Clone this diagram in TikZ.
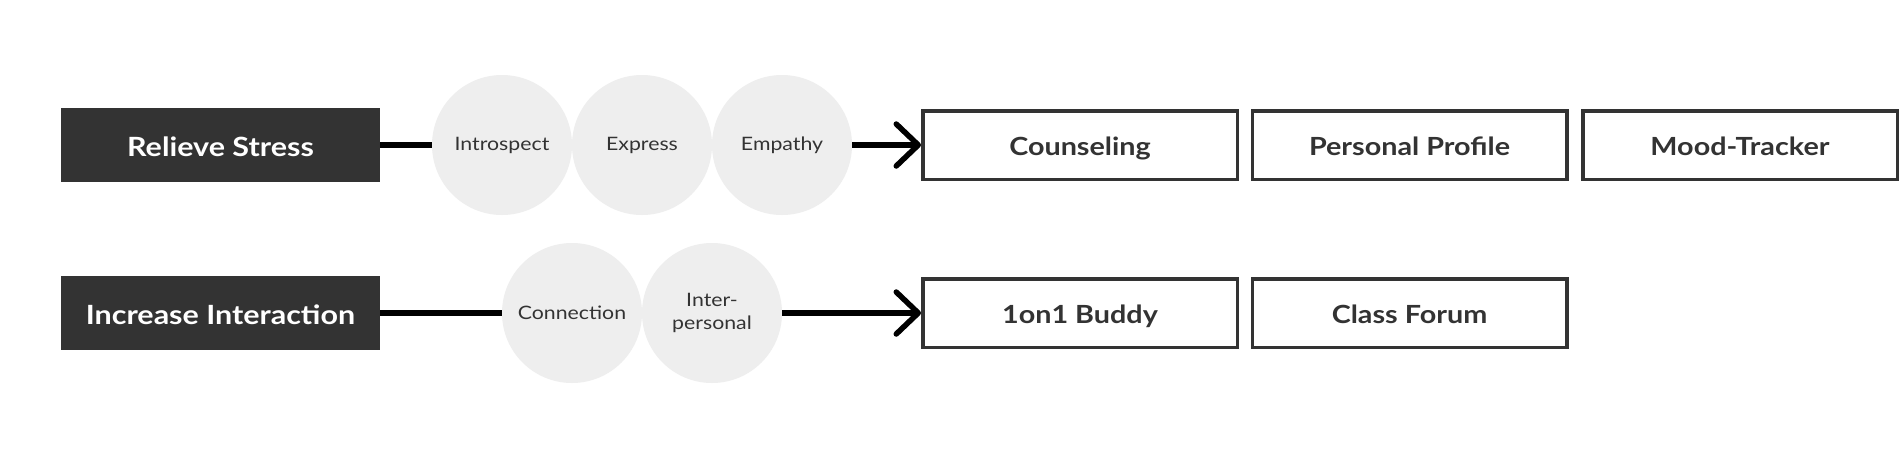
\documentclass[tikz,border=0pt]{standalone}
\usepackage{fontspec}
\setmainfont{Lato}[FakeStretch=1.15]
\usetikzlibrary{arrows.meta}
\definecolor{darkgrey}{HTML}{333333}
\definecolor{lightgrey}{HTML}{EEEEEE}
\begin{document}
\begin{tikzpicture}[x=1pt,y=-1pt,>={Straight Barb[length=22pt,width=42pt,round]},
		goal/.style={fill=darkgrey,text=white,minimum width=319pt,minimum height=74pt,inner sep=0pt,outer sep=0pt,text height=22pt,text depth=0pt,font=\fontsize{26.5}{30}\selectfont\bfseries},
		stage/.style={circle,fill=lightgrey,text=darkgrey,minimum size=140pt,inner sep=0pt,align=center,font=\fontsize{18.5}{23}\selectfont},
		feature/.style={draw=darkgrey,line width=3.5pt,text=darkgrey,minimum width=314.5pt,minimum height=68.5pt,inner sep=0pt,text height=21pt,text depth=0pt,font=\fontsize{25}{29}\selectfont\bfseries},
		link/.style={line width=5.5pt,black}]
				\path[fill=white] (0,0) rectangle (1902,456);
				\path (220.5,145) coordinate (G1);
				\path (220.5,313) coordinate (G2);
				\node[goal] (stress) at (G1) {Relieve Stress};
				\node[goal] (interaction) at (G2) {Increase Interaction};
				\node[stage] (introspect) at (502,145) {Introspect};
				\node[stage] (express) at (642,145) {Express};
				\node[stage] (empathy) at (782,145) {Empathy};
				\node[stage] (connection) at (572,313) {Connection};
				\node[stage] (interpersonal) at (712,313) {Inter-\\personal};
				\node[feature] (counseling) at (1080,145) {Counseling};
				\node[feature] (profile) at (1409.5,145) {Personal Profile};
				\node[feature] (tracker) at (1740,145) {Mood-Tracker};
				\node[feature] (buddy) at (1080,313) {1on1 Buddy};
				\node[feature] (forum) at (1409.5,313) {Class Forum};
				\draw[link] (stress) -- (introspect);
				\draw[link,->] (empathy) -- (counseling);
				\draw[link] (interaction) -- (connection);
				\draw[link,->] (interpersonal) -- (buddy);
			\end{tikzpicture}
\end{document}
